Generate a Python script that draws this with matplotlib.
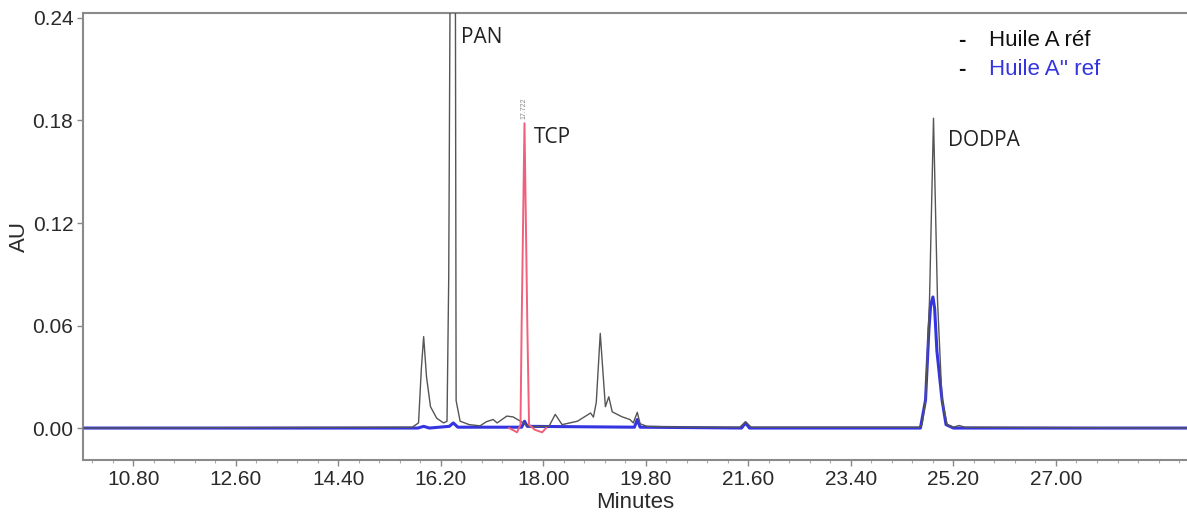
import matplotlib
matplotlib.use("Agg")
import matplotlib.pyplot as plt
from matplotlib.ticker import MultipleLocator, FixedLocator

# ---- data (time in minutes, absorbance in AU) ----
huile_a_t = [9.92, 15.70, 15.81, 15.86, 15.90, 15.95, 16.02, 16.13, 16.25, 16.31,
             16.34, 16.37, 16.455, 16.47, 16.54, 16.70, 16.89, 17.00, 17.12, 17.19,
             17.36, 17.47, 17.60, 17.70, 17.77, 18.10, 18.21, 18.33, 18.60, 18.83,
             18.88, 18.93, 19.00, 19.09, 19.15, 19.21, 19.38, 19.52, 19.58, 19.65,
             19.70, 19.82, 20.50, 21.45, 21.55, 21.65, 24.60, 24.65, 24.71, 24.78,
             24.85, 24.92, 25.00, 25.09, 25.20, 25.30, 25.40, 29.30]
huile_a_y = [0.0, 0.0005, 0.003, 0.035, 0.0535, 0.030, 0.0125, 0.0057, 0.003, 0.004,
             0.088, 0.30, 0.30, 0.016, 0.004, 0.002, 0.0013, 0.0037, 0.005, 0.003,
             0.007, 0.0065, 0.004, 0.002, 0.0008, 0.001, 0.008, 0.002, 0.004, 0.0088,
             0.0064, 0.015, 0.0554, 0.0125, 0.0183, 0.0095, 0.0066, 0.005, 0.003, 0.0092,
             0.0025, 0.001, 0.0005, 0.0005, 0.0037, 0.0005, 0.0005, 0.002, 0.016, 0.075,
             0.1813, 0.075, 0.016, 0.002, 0.0005, 0.0015, 0.0005, 0.0]

huile_a2_t = [9.92, 15.80, 15.90, 16.00, 16.35, 16.42, 16.50, 17.62, 17.67, 17.72,
              19.60, 19.65, 19.70, 21.48, 21.55, 21.62, 24.62, 24.71, 24.77, 24.80,
              24.84, 24.87, 24.91, 25.00, 25.07, 25.20, 29.30]
huile_a2_y = [0.0, 0.0, 0.001, 0.0, 0.001, 0.003, 0.0005, 0.0005, 0.004, 0.001,
              0.0005, 0.005, 0.0005, 0.0, 0.003, 0.0, 0.0, 0.0164, 0.058, 0.072,
              0.0767, 0.070, 0.045, 0.0164, 0.002, 0.0, 0.0]

tcp_t = [17.40, 17.54, 17.60, 17.62, 17.67, 17.72, 17.75, 17.85, 17.98, 18.05]
tcp_y = [0.0, -0.0025, 0.002, 0.06, 0.1784, 0.06, 0.002, -0.001, -0.0025, 0.0]

x_ticks = [10.80, 12.60, 14.40, 16.20, 18.00, 19.80, 21.60, 23.40, 25.20, 27.00]
y_ticks = [0.00, 0.06, 0.12, 0.18, 0.24]

peak_names = ["PAN", "TCP", "DODPA"]
peak_label_t = [16.56, 17.84, 25.11]
peak_label_y = [0.2284, 0.170, 0.168]

legend_labels = ["Huile A réf", "Huile A'' ref"]

# ---- figure ----
fig = plt.figure(figsize=(11.87, 5.15), dpi=100)
ax = fig.add_axes([83 / 1187, 55 / 515, 1 - 83 / 1187, 447 / 515])

black = "#555555"
blue = "#3434e0"
red = "#f0607a"

ax.plot(huile_a2_t, huile_a2_y, color=blue, lw=2.2, zorder=2)
ax.plot(huile_a_t, huile_a_y, color=black, lw=1.0, zorder=3)
ax.plot(tcp_t, tcp_y, color=red, lw=1.4, zorder=4)

ax.set_xlim(9.92, 29.3)
ax.set_ylim(-0.0187, 0.2429)

ax.xaxis.set_major_locator(FixedLocator(x_ticks))
ax.xaxis.set_minor_locator(MultipleLocator(0.36))
ax.yaxis.set_major_locator(FixedLocator(y_ticks))
ax.set_xticklabels([f"{v:.2f}" for v in x_ticks])
ax.set_yticklabels([f"{v:.2f}" for v in y_ticks])

for lab in ax.get_xticklabels() + ax.get_yticklabels():
    lab.set_fontfamily("Liberation Sans")
    lab.set_fontsize(15)
    lab.set_color("#2a2a2a")

ax.tick_params(axis="both", which="major", length=4, width=1, color="#888888", pad=3)
ax.tick_params(axis="x", which="minor", length=2, width=0.8, color="#aaaaaa")

for s in ["left", "bottom", "top"]:
    ax.spines[s].set_color("#8a8a8a")
    ax.spines[s].set_linewidth(1.5)
ax.spines["right"].set_visible(False)

ax.set_xlabel("Minutes", family="Liberation Sans", fontsize=16, color="#2a2a2a", labelpad=2)
ax.set_ylabel("AU", family="Liberation Sans", fontsize=16, color="#2a2a2a", labelpad=2)

for name, tx, ty in zip(peak_names, peak_label_t, peak_label_y):
    ax.text(tx, ty, name, family="Open Sans", fontsize=15, color="#222222",
            ha="left", va="center")

ax.text(17.665, 0.181, "17.722", rotation=90, fontsize=5, color="#888888",
        ha="center", va="bottom", family="Liberation Sans")

# legend as text
leg_colors = ["#111111", blue]
leg_y = [0.227, 0.2096]
for lab, col, yy in zip(legend_labels, leg_colors, leg_y):
    ax.text(25.29, yy, "-", family="Liberation Sans", fontsize=16, color="#111111",
            ha="left", va="center", fontweight="bold")
    ax.text(25.82, yy, lab, family="Liberation Sans", fontsize=16, color=col,
            ha="left", va="center")

fig.savefig("out.png", dpi=100)
